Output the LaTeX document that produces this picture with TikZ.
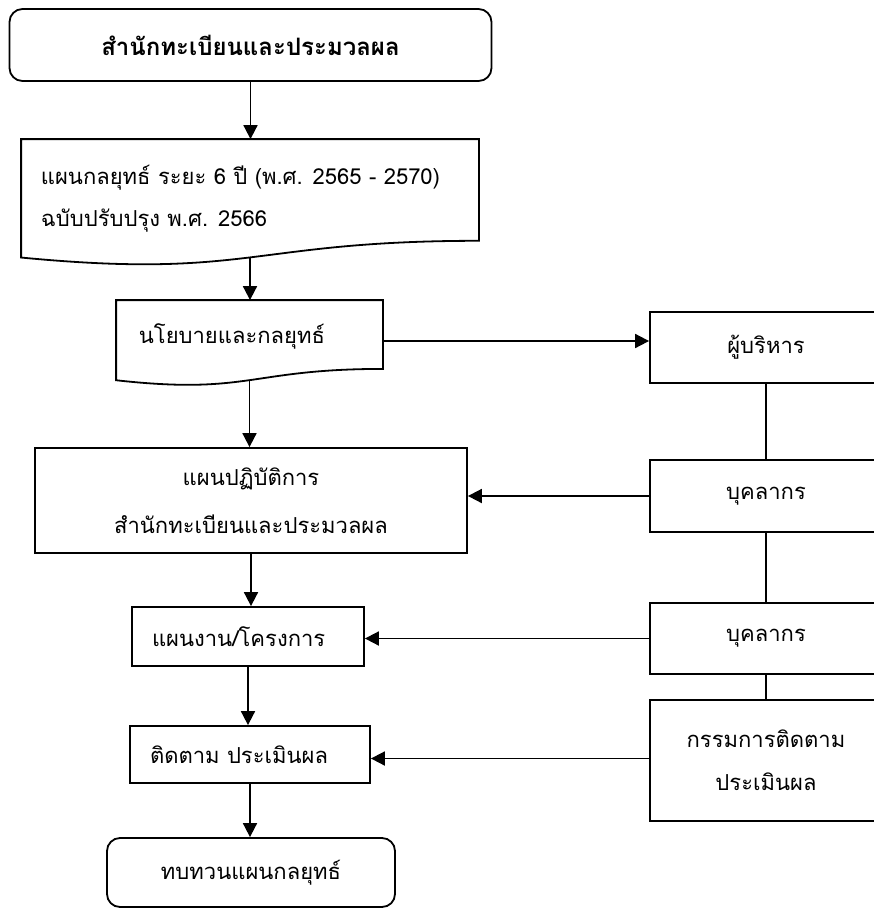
\documentclass[tikz,border=0pt]{standalone}
\usepackage{fontspec}
\newfontfamily\thai[Script=Thai]{Loma}
\usetikzlibrary{arrows.meta,calc}
\begin{document}
\begin{tikzpicture}[x=1pt,y=-1pt,line width=1.8pt,
  txt/.style={font=\thai\fontsize{22}{26}\selectfont,inner sep=0pt},
  box/.style={draw,rectangle,inner sep=0pt,txt,align=center},
  rbox/.style={box,rounded corners=13pt},
  shapebox/.style={rectangle,inner sep=0pt},
  arr/.style={-{Triangle[length=14pt,width=14pt]}},
  conn/.style={line width=1.8pt}]
\useasboundingbox (0,0) rectangle (874,908);
\clip (0,0) rectangle (874,908);

% left column
\node[rbox,minimum width=482pt,minimum height=72pt,font=\thai\bfseries\fontsize{24}{28}\selectfont] (top) at (250.5,45) {สำนักทะเบียนและประมวลผล};

\node[shapebox,minimum width=456pt,minimum height=125pt] (doc1) at (250,202.5) {};
\draw (doc1.north west) -- (doc1.north east) -- ($(doc1.north east)!0.802!(doc1.south east)$)
  .. controls ($(doc1.north)!0.802!(doc1.south)$) and ($(doc1.north)!1.1075!(doc1.south)$)
  .. ($(doc1.north west)!0.934!(doc1.south west)$) -- cycle;
\coordinate (doc1b) at ($(doc1.north)!0.933!(doc1.south)$);
\node[txt,anchor=west,align=left,font=\thai\fontsize{22}{42}\selectfont] (doc1t) at (40,199) {แผนกลยุทธ์ ระยะ 6 ปี (พ.ศ. 2565 - 2570)\\ฉบับปรับปรุง พ.ศ. 2566};

\node[shapebox,minimum width=265pt,minimum height=84pt] (doc2) at (249.5,343) {};
\draw (doc2.north west) -- (doc2.north east) -- ($(doc2.north east)!0.802!(doc2.south east)$)
  .. controls ($(doc2.north)!0.802!(doc2.south)$) and ($(doc2.north)!1.1075!(doc2.south)$)
  .. ($(doc2.north west)!0.934!(doc2.south west)$) -- cycle;
\coordinate (doc2b) at ($(doc2.north)!0.933!(doc2.south)$);
\node[txt,anchor=west] (doc2t) at (138,336) {นโยบายและกลยุทธ์};

\node[box,minimum width=432pt,minimum height=105pt,font=\thai\fontsize{22}{48}\selectfont] (plan) at (251,500.5) {แผนปฏิบัติการ\\สำนักทะเบียนและประมวลผล};

\node[box,minimum width=232pt,minimum height=59pt,text width=192pt,inner xsep=20pt,align=left] (proj) at (248,636.5) {แผนงาน/โครงการ};

\node[box,minimum width=240pt,minimum height=57pt,text width=200pt,inner xsep=20pt,align=left] (mon) at (250,754.5) {ติดตาม ประเมินผล};

\node[rbox,minimum width=288pt,minimum height=69pt] (rev) at (251,872.5) {ทบทวนแผนกลยุทธ์};

% right column
\node[box,minimum width=232pt,minimum height=71pt] (mgr) at (766,347.5) {ผู้บริหาร};
\node[box,minimum width=232pt,minimum height=72pt] (staff1) at (766,496) {บุคลากร};
\node[box,minimum width=232pt,minimum height=71pt] (staff2) at (766,638.5) {บุคลากร};
\node[box,minimum width=232pt,minimum height=121pt,font=\thai\fontsize{22}{43}\selectfont] (comm) at (766,760.5) {กรรมการติดตาม\\ประเมินผล};

% vertical arrows
\draw[arr] (top.south) -- (top.south |- doc1.north);
\draw[arr] (doc1b) -- (doc1b |- doc2.north);
\draw[arr] (doc2b) -- (doc2b |- plan.north);
\draw[arr] (plan.south) -- (plan.south |- proj.north);
\draw[arr] (proj.south) -- (proj.south |- mon.north);
\draw[arr] (mon.south) -- (mon.south |- rev.north);

% horizontal arrows
\draw[arr] ($(doc2.east)+(0,-2)$) coordinate (d2e) -- (d2e -| mgr.west);
\draw[arr] (staff1.west) -- (staff1.west -| plan.east);
\draw[arr] (staff2.west) -- (staff2.west -| proj.east);
\draw[arr] ($(comm.west)+(0,-2)$) coordinate (cw) -- (cw -| mon.east);

% right connectors
\draw[conn] (mgr.south) -- (staff1.north);
\draw[conn] (staff1.south) -- (staff2.north);
\draw[conn] (staff2.south) -- (comm.north);
\end{tikzpicture}
\end{document}
